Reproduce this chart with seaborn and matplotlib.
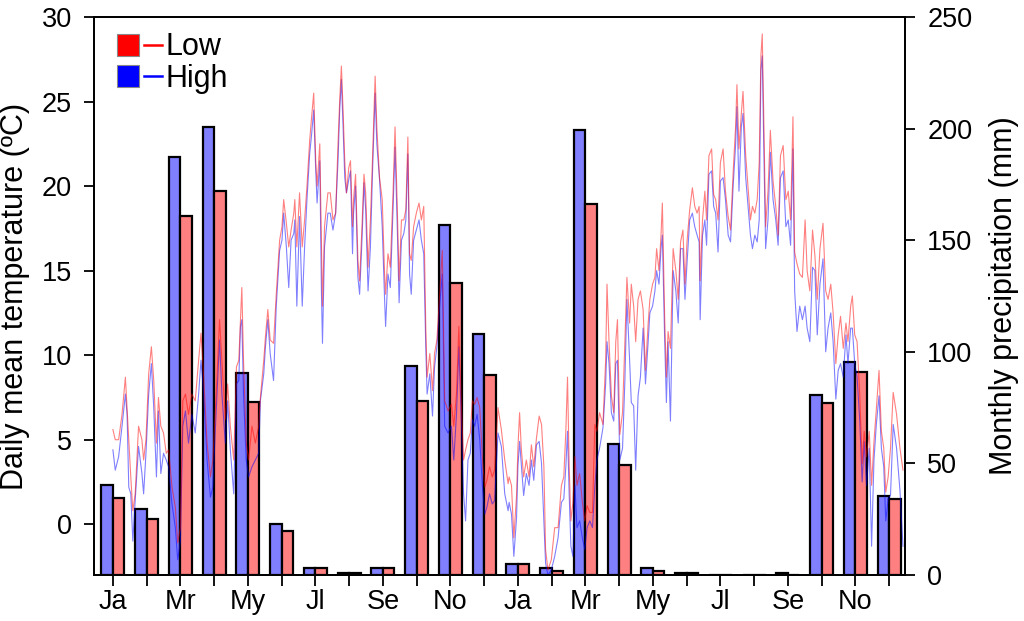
import matplotlib
matplotlib.use('Agg')
import matplotlib.pyplot as plt
from matplotlib.lines import Line2D
from matplotlib.legend_handler import HandlerTuple
import seaborn as sns
import pandas as pd

plt.rcParams['font.family'] = ['Liberation Sans', 'DejaVu Sans']

# ---------------- data ----------------
month_labels = ['Ja', '', 'Mr', '', 'My', '', 'Jl', '', 'Se', '', 'No', '',
                'Ja', '', 'Mr', '', 'My', '', 'Jl', '', 'Se', '', 'No', '']

precip_high = [40.3, 29.4, 187.4, 200.6, 90.5, 23.0, 3.0, 0.9, 3.0, 93.5, 156.7, 107.8,
               4.9, 3.1, 199.4, 58.8, 3.1, 0.9, 0.0, 0.0, 0.9, 80.5, 95.4, 35.5]
precip_low = [34.6, 25.2, 160.7, 171.9, 77.6, 19.7, 3.0, 0.9, 3.0, 77.8, 130.7, 89.8,
              4.9, 1.9, 166.4, 49.4, 1.9, 0.9, 0.0, 0.0, 0.0, 76.9, 91.1, 34.2]

# time in months (0 = mid January, first year)
temp_month = [
    0.00, 0.07, 0.17, 0.27, 0.37, 0.42, 0.47, 0.53, 0.59, 0.66, 0.76, 0.86, 0.91, 0.98,
    1.06, 1.14, 1.21, 1.29, 1.35, 1.42, 1.50, 1.58, 1.65, 1.75, 1.85, 1.92, 2.00, 2.07,
    2.15, 2.24, 2.34, 2.44, 2.54, 2.61, 2.69, 2.79, 2.89, 2.96, 3.06, 3.16, 3.23, 3.33,
    3.40, 3.48, 3.58, 3.66, 3.73, 3.78, 3.82, 3.87, 3.95, 4.02, 4.12, 4.22, 4.32, 4.37,
    4.47, 4.52, 4.59, 4.66, 4.76, 4.84, 4.94, 5.01, 5.06, 5.14, 5.21, 5.28, 5.36, 5.39,
    5.45, 5.53,
    5.61, 5.68, 5.75, 5.83, 5.88, 5.95, 6.01, 6.05, 6.13, 6.18, 6.21, 6.27, 6.37, 6.44,
    6.52, 6.60, 6.67, 6.72, 6.77, 6.82, 6.87, 6.92, 6.99, 7.04, 7.10, 7.13, 7.19, 7.26,
    7.31, 7.38, 7.44, 7.49, 7.56, 7.63, 7.69, 7.77, 7.82, 7.90, 7.98, 8.05, 8.08, 8.15,
    8.22, 8.30, 8.36, 8.42, 8.48, 8.55, 8.62, 8.68, 8.74, 8.79, 8.84, 8.91, 8.99, 9.07,
    9.14, 9.21, 9.27, 9.31, 9.39, 9.47, 9.53, 9.60, 9.68, 9.76, 9.83, 9.93, 10.03, 10.10,
    10.18, 10.25, 10.33, 10.39, 10.45, 10.52, 10.59, 10.65, 10.72, 10.79, 10.87, 10.95,
    11.02, 11.08, 11.16, 11.24, 11.31, 11.41, 11.51, 11.61, 11.71,
    11.74, 11.81, 11.88, 11.96, 12.00, 12.05, 12.10, 12.17, 12.25, 12.33, 12.40, 12.47,
    12.55, 12.63, 12.70, 12.77, 12.82, 12.89, 12.99, 13.09, 13.19, 13.29, 13.36, 13.42,
    13.47, 13.52, 13.57, 13.63, 13.69, 13.75, 13.83, 13.91, 13.98, 14.05, 14.13, 14.21,
    14.28, 14.34, 14.42, 14.52, 14.60, 14.64, 14.70, 14.77, 14.84, 14.90, 14.95, 15.02,
    15.10, 15.17, 15.23, 15.31, 15.36, 15.43, 15.49, 15.56, 15.63, 15.71, 15.78, 15.86,
    15.91, 15.99, 16.06, 16.11, 16.18, 16.24, 16.28, 16.35, 16.40, 16.45, 16.52, 16.60,
    16.68, 16.75, 16.82, 16.89, 16.95, 17.01, 17.09, 17.17, 17.24, 17.31, 17.37,
    17.40, 17.47, 17.54, 17.59, 17.66, 17.74, 17.80, 17.86, 17.93, 18.00, 18.08, 18.15,
    18.23, 18.30, 18.38, 18.45, 18.49, 18.55, 18.62, 18.67, 18.75, 18.82, 18.89, 18.95,
    19.02, 19.09, 19.15, 19.20, 19.24, 19.29, 19.34, 19.41, 19.48, 19.56, 19.64, 19.71,
    19.78, 19.86, 19.94, 20.01, 20.08, 20.15, 20.20, 20.27, 20.35, 20.43, 20.51, 20.57,
    20.65, 20.73, 20.80, 20.87, 20.95, 21.04, 21.12, 21.19, 21.27, 21.34, 21.42, 21.49,
    21.56, 21.64, 21.72, 21.78, 21.86, 21.91, 21.98, 22.05, 22.13, 22.20, 22.26, 22.33,
    22.41, 22.48, 22.55, 22.62, 22.70, 22.77, 22.84, 22.90, 22.97, 23.04, 23.12, 23.22,
    23.32, 23.41]

temp_low = [
    5.6, 5.0, 5.0, 6.5, 8.7, 6.9, 5.0, 2.8, 0.8, 1.8, 5.8, 5.0, 3.8, 5.0,
    8.9, 10.5, 8.5, 4.8, 7.5, 5.8, 5.4, 4.2, 4.4, 2.2, 1.0, -1.1, -0.2, 7.3,
    7.7, 6.5, 7.7, 7.3, 9.7, 11.3, 8.7, 4.8, 2.8, 3.8, 7.7, 12.1, 9.7, 6.2,
    8.3, 5.8, 3.8, 9.3, 9.7, 12.1, 14.0, 9.7, 4.8, 3.8, 5.8, 4.8, 5.8, 7.5,
    9.7, 11.1, 12.7, 10.9, 10.7, 13.6, 16.8, 17.6, 19.2, 17.8, 16.4, 17.4, 18.4, 19.2,
    16.4, 19.6,
    16.4, 18.0, 20.0, 22.7, 23.9, 25.5, 21.5, 20.0, 22.5, 16.4, 12.9, 17.6, 19.6, 19.6,
    18.0, 18.4, 22.5, 25.1, 27.1, 24.5, 21.5, 19.6, 21.1, 21.5, 17.6, 19.2, 20.7, 15.6,
    14.4, 17.6, 20.7, 19.6, 15.2, 18.0, 21.5, 26.5, 23.5, 20.5, 19.2, 14.8, 13.6, 16.0,
    15.2, 19.6, 23.5, 19.2, 14.4, 18.0, 18.0, 18.6, 22.9, 16.0, 15.6, 17.6, 18.4, 19.0,
    18.0, 18.8, 11.7, 8.7, 10.1, 7.9, 10.1, 10.9, 13.6, 16.2, 7.3, 6.7, 7.1, 5.8,
    7.7, 11.7, 6.7, 3.8, 4.4, 5.0, 5.4, 7.3, 7.1, 7.5, 6.9, 3.8,
    2.2, 2.6, 3.4, 2.8, 3.2, 6.9, 5.6, 3.8, 2.4,
    2.8, 2.3, -0.8, 1.7, 4.5, 6.6, 4.5, 2.8, 3.8, 2.8, 4.7, 3.4,
    5.1, 6.4, 5.9, 3.4, -1.5, -2.7, -2.1, -0.2, -0.2, 2.3, 2.8, 5.5,
    8.7, 3.4, 0.2, 1.3, 4.0, 2.3, 3.0, 1.3, 0.2, 1.1, 0.7, 0.7,
    5.9, 5.5, 6.6, 5.9, 9.7, 14.2, 10.8, 7.6, 6.6, 10.8, 12.1, 5.3,
    6.6, 10.8, 14.6, 11.9, 14.2, 12.9, 10.8, 13.3, 13.8, 12.7, 9.1, 11.9,
    13.3, 14.2, 14.6, 16.3, 15.0, 17.1, 19.0, 12.1, 8.7, 11.4, 10.4, 16.3,
    15.0, 13.3, 16.7, 17.4, 14.2, 16.7, 18.6, 19.9, 18.8, 18.4, 18.8,
    14.4, 18.0, 19.7, 18.0, 21.8, 22.2, 19.5, 19.2, 18.0, 21.4, 22.2, 19.7,
    18.2, 17.4, 20.9, 23.5, 26.0, 22.2, 24.3, 25.6, 21.8, 19.9, 18.0, 18.8,
    18.4, 19.2, 21.4, 27.7, 29.0, 23.5, 17.6, 19.7, 23.3, 20.3, 18.8, 17.1,
    21.8, 22.4, 19.2, 19.7, 18.0, 24.1, 16.1, 15.4, 14.8, 14.6, 18.0, 15.0,
    13.8, 17.4, 15.9, 13.3, 16.3, 17.8, 13.8, 13.3, 14.2, 12.5, 9.5, 11.2,
    12.3, 10.4, 11.9, 10.8, 12.9, 13.5, 11.2, 10.8, 7.6, 3.6, 5.5, 4.0,
    5.5, 2.3, 4.9, 6.8, 9.1, 5.5, 4.5, 1.9, 2.8, 4.5, 7.8, 6.5,
    4.5, 3.2]

temp_high = [
    4.4, 3.2, 4.0, 5.8, 7.7, 6.5, 2.2, 1.8, -1.0, 1.4, 4.6, 3.0, 1.8, 4.2,
    7.7, 9.5, 6.9, 2.8, 6.7, 3.0, 4.2, 3.8, 3.4, 1.2, -0.2, -2.1, -1.0, 5.8,
    6.7, 4.8, 6.5, 5.4, 7.7, 9.7, 7.7, 3.8, 1.6, 2.2, 6.7, 10.9, 7.7, 4.8,
    7.3, 4.4, 1.8, 8.3, 8.5, 11.7, 12.1, 7.7, 3.8, 2.8, 3.4, 3.8, 4.2, 7.3,
    8.9, 10.5, 12.1, 10.1, 8.5, 12.9, 16.2, 16.8, 18.4, 16.4, 14.0, 16.8, 17.2, 18.0,
    12.9, 18.2,
    12.9, 16.4, 19.2, 21.9, 22.9, 24.5, 20.9, 19.0, 21.5, 13.6, 10.7, 16.4, 18.4, 18.4,
    17.4, 18.4, 21.5, 24.5, 26.3, 23.5, 20.5, 19.6, 20.4, 20.9, 16.0, 18.4, 20.0, 14.6,
    13.6, 16.8, 20.2, 18.6, 13.8, 16.4, 20.7, 25.5, 22.5, 20.4, 17.6, 13.3, 11.7, 14.8,
    14.0, 18.6, 22.3, 18.0, 13.1, 16.8, 17.2, 18.0, 21.9, 14.8, 13.6, 16.8, 17.4, 18.0,
    16.8, 16.0, 10.5, 7.7, 8.9, 6.4, 9.3, 10.5, 12.9, 14.8, 5.8, 5.4, 5.8, 3.8,
    6.5, 10.5, 5.8, 1.8, 0.2, 3.8, 4.2, 6.2, 5.8, 6.5, 5.0, 2.2,
    0.6, 1.0, 1.8, 1.2, 1.4, 5.4, 4.6, 1.8, 0.8,
    1.3, 0.6, -1.9, 0.4, 3.4, 4.9, 3.6, 1.7, 3.0, 2.3, 3.8, 2.6,
    4.7, 4.9, 3.6, 0.2, -2.3, -3.0, -2.7, -1.9, -0.8, 1.3, 1.5, 3.4,
    5.5, 1.7, -1.3, -1.9, 2.3, -0.2, 0.2, -0.8, -1.5, -0.2, 0.2, -0.2,
    2.3, 3.8, 4.5, 5.7, 8.3, 10.8, 9.5, 6.6, 6.1, 9.5, 9.7, 3.8,
    4.5, 8.5, 13.3, 9.7, 7.2, 7.0, 3.2, 7.6, 8.7, 11.6, 8.3, 10.8,
    12.5, 12.9, 13.8, 15.0, 14.2, 16.3, 17.1, 10.8, 7.2, 10.8, 6.1, 15.0,
    13.8, 11.9, 16.3, 16.3, 13.3, 15.4, 18.0, 18.4, 17.6, 17.1, 16.7,
    12.1, 17.1, 18.0, 16.5, 20.7, 20.9, 18.8, 18.4, 16.1, 20.3, 20.5, 19.2,
    17.1, 16.7, 20.1, 22.4, 24.7, 19.7, 23.5, 24.3, 20.5, 18.8, 17.1, 16.3,
    17.1, 16.7, 18.0, 26.9, 27.7, 21.8, 16.3, 18.0, 22.0, 19.2, 18.0, 16.5,
    20.5, 20.9, 17.6, 18.0, 16.5, 22.2, 13.8, 11.4, 12.9, 12.1, 12.9, 11.6,
    10.8, 15.2, 15.0, 11.2, 14.2, 15.7, 10.2, 11.6, 12.5, 10.8, 7.4, 9.1,
    9.5, 8.7, 11.2, 9.5, 11.6, 11.6, 9.5, 8.7, 6.1, 2.5, 4.9, 2.3,
    4.5, -1.3, 3.8, 5.9, 7.6, 4.5, 3.4, 0.2, 1.5, 1.7, 5.9, 4.5,
    2.0, -1.3]

# ---------------- figure ----------------
bar_df = pd.DataFrame({
    'month': list(range(24)) * 2,
    'precip': precip_high + precip_low,
    'series': ['High'] * 24 + ['Low'] * 24,
})

fig = plt.figure(figsize=(10.24, 6.21), dpi=100)
ax = fig.add_axes([0.0918, 0.0741, 0.792, 0.8985])

sns.barplot(data=bar_df, x='month', y='precip', hue='series', hue_order=['High', 'Low'],
            palette={'High': '#8080FF', 'Low': '#FF8080'}, saturation=1, width=0.68,
            edgecolor='black', linewidth=1.6, legend=False, ax=ax, errorbar=None)

ax2 = ax.twinx()
sns.lineplot(x=temp_month, y=temp_high, color='#0000FF', alpha=0.5, lw=0.8,
             sort=False, estimator=None, ax=ax2)
sns.lineplot(x=temp_month, y=temp_low, color='#FF0000', alpha=0.5, lw=0.8,
             sort=False, estimator=None, ax=ax2)

# axes sides: temperature left, precipitation right
ax.yaxis.tick_right()
ax.yaxis.set_label_position('right')
ax2.yaxis.tick_left()
ax2.yaxis.set_label_position('left')

ax.set_ylim(0, 250)
ax.set_yticks(range(0, 251, 50))
ax2.set_ylim(-3, 30)
ax2.set_yticks(range(0, 31, 5))
ax.set_xlim(-0.56, 23.47)
ax.set_xticks(range(24))
ax.set_xticklabels(month_labels)
ax.set_xlabel('')
ax.set_ylabel('Monthly precipitation (mm)', fontsize=22, labelpad=12)
ax2.set_ylabel('Daily mean temperature (ºC)', fontsize=22, labelpad=8)

ax.tick_params(axis='x', direction='out', length=8, width=1.3, labelsize=19.5, pad=2)
ax.tick_params(axis='y', direction='out', length=7, width=1.3, labelsize=19.5, pad=9)
ax2.tick_params(axis='y', direction='out', length=7, width=1.3, labelsize=19.5, pad=9)
for a in (ax, ax2):
    for s in a.spines.values():
        s.set_linewidth(1.3)
        s.set_color('black')

low_h = (Line2D([], [], marker='s', ms=16, mfc='#FF0000', mec='#888888', mew=0.8, ls='None'),
         Line2D([], [], color='#FF0000', lw=1.8))
high_h = (Line2D([], [], marker='s', ms=16, mfc='#0000FF', mec='#888888', mew=0.8, ls='None'),
          Line2D([], [], color='#0000FF', lw=1.8))
ax2.legend([low_h, high_h], ['Low', 'High'],
           handler_map={tuple: HandlerTuple(ndivide=None, pad=0.25)},
           loc='upper left', bbox_to_anchor=(0.012, 1.0), frameon=False, fontsize=22,
           handlelength=1.4, handletextpad=0.12, labelspacing=0.05,
           borderaxespad=0.3, borderpad=0.2)

fig.savefig('out.png', dpi=100)
